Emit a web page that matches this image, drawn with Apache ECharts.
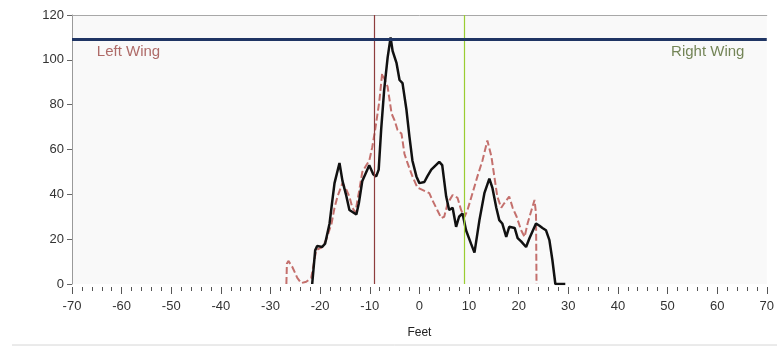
<!DOCTYPE html>
<html>
<head>
<meta charset="utf-8">
<script src="https://cdn.jsdelivr.net/npm/echarts@6/dist/echarts.min.js"></script>
<style>
  html, body { margin: 0; padding: 0; background: #ffffff; }
  #chart { width: 777px; height: 347px; }
</style>
</head>
<body>
<div id="chart"></div>
<script>
// Axis ranges (feet across, height up)
const xRange = [-70, 70];
const xStep = 10;
const yRange = [0, 120];
const yStep = 20;

// Reference markers
const leftWingX = -9;
const rightWingX = 9;
const heightLevel = 109;
const wingNames = ['Left Wing', 'Right Wing'];
const wingNameX = [-65, 65.5];
const wingNameY = 103.5;

// Solid profile: [feet, value]
const solidProfile = [
  [-21.6, 0], [-21.0, 15], [-20.6, 17], [-19.6, 16.5], [-19.0, 18], [-18.1, 27],
  [-17.5, 38], [-17.1, 45], [-16.1, 54], [-15.5, 46], [-14.8, 40], [-14.1, 33],
  [-12.7, 31], [-12.2, 36], [-11.5, 46], [-10.1, 53], [-9.3, 49], [-8.7, 48],
  [-8.2, 51], [-7.7, 69], [-7.1, 86.5], [-6.4, 101], [-5.8, 110], [-5.4, 104],
  [-4.6, 98.5], [-4.0, 91], [-3.4, 89.6], [-2.6, 77.6], [-2.0, 65.6], [-1.4, 55],
  [-0.6, 48], [0.0, 45], [1.0, 45.5], [1.6, 48], [2.4, 51], [4.0, 54.5],
  [4.6, 53], [5.4, 39], [6.0, 33], [6.7, 34], [7.4, 25.5], [8.0, 30],
  [8.7, 31.5], [9.4, 24], [10.4, 18], [11.1, 14], [12.1, 28.5], [13.1, 40.5],
  [14.1, 47], [14.7, 43], [15.5, 34], [16.1, 28.5], [16.7, 27], [17.5, 21],
  [18.1, 25.5], [19.2, 25], [19.8, 20.5], [20.5, 19], [21.5, 16.5], [22.2, 20.5],
  [23.5, 27], [24.2, 26], [24.8, 25], [25.5, 24], [26.2, 19.6], [26.8, 10.7],
  [27.4, 0], [29.4, 0]
];

// Dashed profile: [feet, value]
const dashedProfile = [
  [-26.8, 0], [-26.7, 9], [-26.4, 10.3], [-25.6, 7.6], [-24.6, 2.7], [-23.8, 0.4],
  [-22.8, 1], [-21.8, 2.7], [-20.8, 15], [-19.6, 16.5], [-18.8, 19.6], [-17.7, 27],
  [-17.1, 34], [-16.5, 39], [-15.5, 45], [-14.7, 42], [-14.1, 39], [-13.5, 34],
  [-12.9, 32], [-12.1, 42], [-11.5, 50], [-10.7, 53], [-10.1, 55], [-9.5, 61],
  [-8.9, 69], [-8.1, 81], [-7.5, 94], [-7.1, 94.5], [-6.4, 88], [-5.6, 76],
  [-5.0, 73], [-4.4, 68.7], [-3.6, 67], [-3.0, 58], [-2.4, 54], [-1.4, 48],
  [-0.4, 43], [0.6, 42], [2.0, 40.5], [2.6, 37.5], [3.6, 33], [4.4, 29.4],
  [5.0, 30], [5.7, 36], [6.7, 39.7], [7.7, 38.4], [8.4, 33], [9.1, 30],
  [9.7, 33], [10.7, 40.5], [11.7, 48], [12.7, 55], [13.7, 64], [14.5, 57],
  [15.1, 48], [15.7, 39], [16.5, 34], [17.1, 36], [18.1, 39], [18.8, 34],
  [19.6, 30], [20.5, 24], [21.2, 21], [21.8, 27], [22.6, 33], [23.2, 37.5],
  [23.5, 31.5], [23.6, 0]
];

const FONT = "'Liberation Sans', Arial, sans-serif";

const chart = echarts.init(document.getElementById('chart'), null, { renderer: 'canvas' });

chart.setOption({
  animation: false,
  backgroundColor: '#ffffff',
  textStyle: { fontFamily: FONT },
  grid: {
    left: 72, right: 9, top: 15, bottom: 63,
    show: true, backgroundColor: '#f9f9f9', borderWidth: 0
  },
  xAxis: [
    {
      type: 'value',
      min: xRange[0], max: xRange[1], interval: xStep,
      offset: 3,
      axisLine: { show: false, onZero: false },
      axisTick: { show: true, length: 7, lineStyle: { color: '#555', width: 1 } },
      minorTick: { show: true, splitNumber: 5, length: 4, lineStyle: { color: '#555', width: 1 } },
      splitLine: { show: false },
      minorSplitLine: { show: false },
      axisLabel: { margin: 13, fontSize: 13, color: '#333', fontFamily: FONT },
      name: 'Feet',
      nameLocation: 'middle',
      nameGap: 40,
      nameTextStyle: { fontSize: 12, color: '#222', fontFamily: FONT }
    },
    {
      type: 'value',
      position: 'top',
      min: xRange[0], max: xRange[1],
      axisLine: { show: true, onZero: false, lineStyle: { color: '#a8a8a8', width: 1 } },
      axisTick: { show: false },
      axisLabel: { show: false },
      splitLine: { show: false }
    }
  ],
  yAxis: {
    type: 'value',
    min: yRange[0], max: yRange[1], interval: yStep,
    axisLine: { show: true, onZero: false, lineStyle: { color: '#9a9a9a', width: 1 } },
    axisTick: { show: true, length: 5, lineStyle: { color: '#666' } },
    splitLine: { show: false },
    axisLabel: { margin: 8, fontSize: 13, color: '#333', fontFamily: FONT }
  },
  graphic: [
    {
      type: 'line',
      shape: { x1: 12, y1: 345, x2: 777, y2: 345 },
      style: { stroke: '#d6d6d6', lineWidth: 1 },
      silent: true
    }
  ],
  series: [
    {
      name: 'markers',
      type: 'line',
      data: [],
      silent: true,
      z: 1,
      markLine: {
        silent: true,
        symbol: 'none',
        label: { show: false },
        animation: false,
        data: [
          { xAxis: leftWingX, lineStyle: { color: '#8e3d3d', width: 1.2, type: 'solid' } },
          { xAxis: rightWingX, lineStyle: { color: '#9acd32', width: 1.2, type: 'solid' } }
        ]
      }
    },
    {
      name: 'dashed',
      type: 'line',
      data: dashedProfile,
      showSymbol: false,
      symbol: 'none',
      z: 2,
      lineStyle: { color: '#c4706d', width: 2, type: [7, 3] }
    },
    {
      name: 'solid',
      type: 'line',
      data: solidProfile,
      showSymbol: false,
      symbol: 'none',
      z: 3,
      lineStyle: { color: '#111111', width: 2.5 }
    },
    {
      name: 'level',
      type: 'line',
      data: [],
      silent: true,
      z: 4,
      markLine: {
        silent: true,
        symbol: 'none',
        label: { show: false },
        animation: false,
        data: [
          { yAxis: heightLevel, lineStyle: { color: '#1f3564', width: 3, type: 'solid' } }
        ]
      }
    },
    {
      name: 'wings',
      type: 'scatter',
      symbolSize: 1,
      silent: true,
      z: 5,
      itemStyle: { color: 'rgba(0,0,0,0)' },
      data: wingNames.map((n, i) => ({
        value: [wingNameX[i], wingNameY],
        name: n,
        label: {
          show: true,
          position: 'inside',
          formatter: n,
          align: i === 0 ? 'left' : 'right',
          verticalAlign: 'middle',
          fontSize: 15,
          fontFamily: FONT,
          color: i === 0 ? '#9c4744' : '#52682e'
        }
      }))
    }
  ]
});
</script>
</body>
</html>
